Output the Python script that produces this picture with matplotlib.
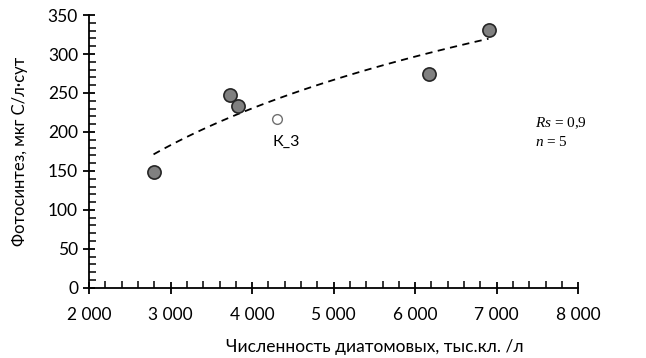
import matplotlib.pyplot as plt
from matplotlib.ticker import MultipleLocator, FuncFormatter
import numpy as np

# данные
x = [2790, 3730, 3830, 6170, 6900]
y = [149, 247, 233, 274, 331]
x_k3 = [4310]
y_k3 = [216]

plt.rcParams['font.family'] = ['Lato', 'DejaVu Sans']
plt.rcParams['mathtext.fontset'] = 'custom'
plt.rcParams['mathtext.rm'] = 'Liberation Serif'
plt.rcParams['mathtext.it'] = 'Liberation Serif:italic'

fig = plt.figure(figsize=(6.46, 3.58), dpi=100)
ax = fig.add_axes([0.138, 0.196, 0.757, 0.762])

# логарифмический тренд
k, c = np.polyfit(np.log(x), y, 1)
xt = np.linspace(min(x), max(x), 100)
ax.plot(xt, k * np.log(xt) + c, '--', color='black', lw=1.3, dashes=(4, 3))

ax.plot(x, y, 'o', ms=9.5, mfc='#808080', mec='#262626', mew=1.2)
ax.plot(x_k3, y_k3, 'o', ms=7, mfc='white', mec='#707070', mew=1)
ax.text(4420, 187, 'К_3', fontsize=11.5, ha='center', va='center')

ax.text(7470, 211, r'$Rs$ = 0,9', fontsize=11, family='Liberation Serif', ha='left',
        va='center')
ax.text(7470, 187, r'$n$ = 5', fontsize=11, family='Liberation Serif', ha='left',
        va='center')

ax.set_xlim(2000, 8000)
ax.set_ylim(0, 350)
ax.xaxis.set_major_locator(MultipleLocator(1000))
ax.xaxis.set_minor_locator(MultipleLocator(200))
ax.yaxis.set_major_locator(MultipleLocator(50))
ax.yaxis.set_minor_locator(MultipleLocator(10))
ax.xaxis.set_major_formatter(FuncFormatter(lambda v, p: f'{int(v):,}'.replace(',', ' ')))

for s in ['top', 'right']:
    ax.spines[s].set_visible(False)
for s in ['left', 'bottom']:
    ax.spines[s].set_linewidth(1.3)
ax.tick_params(which='major', direction='inout', length=9, width=1.3, labelsize=12.5)
ax.tick_params(which='minor', direction='in', length=5, width=1.1)
ax.tick_params(axis='x', pad=9)

ax.set_xlabel('Численность диатомовых, тыс.кл. /л', fontsize=12.5, labelpad=12, x=0.585)
ax.set_ylabel('Фотосинтез, мкг С/л·сут', fontsize=12, labelpad=14)

fig.savefig('out.png', dpi=100)
